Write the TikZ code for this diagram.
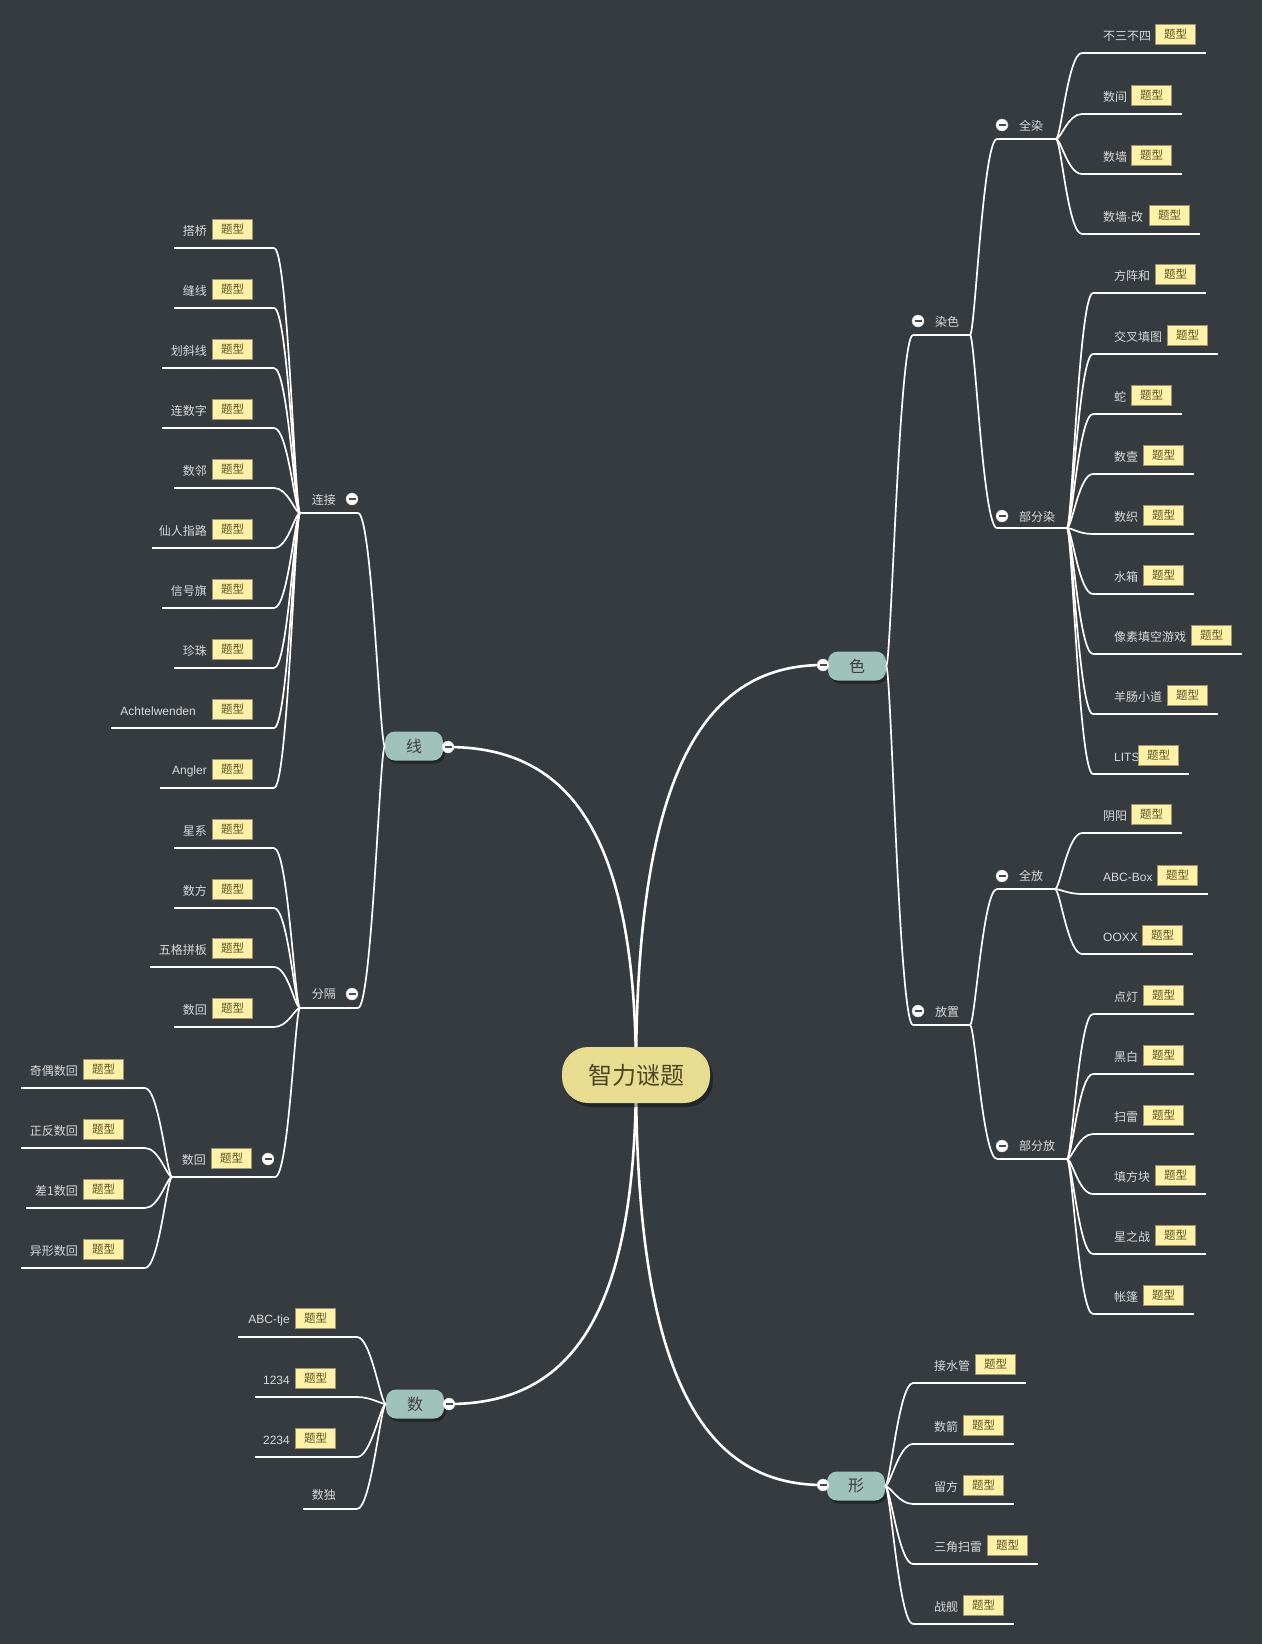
\documentclass[tikz,border=0pt]{standalone}
\usepackage{fontspec}
\newfontfamily\cjk{Noto Sans CJK SC}
\newfontfamily\lat{Liberation Sans}
\usetikzlibrary{shadows}

\definecolor{bgcol}{HTML}{363B3F}
\definecolor{leaftext}{HTML}{DADADA}
\definecolor{tagfill}{HTML}{FFF1A8}
\definecolor{tagline}{HTML}{9B9470}
\definecolor{tagtext}{HTML}{5E5426}
\definecolor{topicfill}{HTML}{9FC2BB}
\definecolor{topictext}{HTML}{3E4040}
\definecolor{rootfill}{HTML}{E7DC8F}
\definecolor{roottext}{HTML}{4D4526}
\definecolor{foldbar}{HTML}{4A4A4A}

\pgfdeclarelayer{back}
\pgfsetlayers{back,main}

\tikzset{
  trunk/.style={white, line width=2.6pt},
  branch/.style={white, line width=1.7pt},
  leaf/.style={text=leaftext, font=\cjk\fontsize{12}{14}\selectfont, inner sep=0pt},
  tag/.style={draw=tagline, fill=tagfill, text=tagtext, line width=0.8pt,
    font=\cjk\fontsize{11.5}{13}\selectfont, minimum width=40pt, minimum height=20pt, inner sep=0pt},
  topic/.style={fill=topicfill, text=topictext, rounded corners=10pt,
    font=\cjk\fontsize{16}{18}\selectfont, minimum width=58pt, minimum height=29pt,
    drop shadow={shadow xshift=2pt, shadow yshift=-3pt, fill=black, opacity=0.35}},
  root/.style={fill=rootfill, text=roottext, rounded corners=26pt,
    font=\cjk\fontsize{24}{28}\selectfont, minimum width=148pt, minimum height=56pt,
    drop shadow={shadow xshift=3pt, shadow yshift=-4pt, fill=black, opacity=0.35}},
  fold/.style={circle, fill=white, draw=gray!40, line width=0.4pt, minimum size=12pt, inner sep=0pt,
    path picture={\draw[foldbar, line width=1.8pt]
      ([xshift=-3.5pt]path picture bounding box.center) -- ([xshift=3.5pt]path picture bounding box.center);}}
}

% leaves on the right of a junction: name/y/left x/right x/text
\newcommand{\rightleaves}[2]{%
  \foreach \n/\yy/\lx/\rx/\txt in {#2}{%
    \draw[branch] (\lx,\yy) coordinate (\n-l) -- (\rx,\yy) coordinate (\n-r);
    \draw[branch] (#1) .. controls +(5,0) and +(-14,0) .. (\n-l);
    \node[leaf, anchor=west] (\n) at (\lx+21,\yy-17) {\txt};
    \node[tag, anchor=east] (\n-t) at (\rx-10,\yy-19) {题型};
  }}
% leaves on the left of a junction
\newcommand{\leftleaves}[2]{%
  \foreach \n/\yy/\lx/\rx/\txt in {#2}{%
    \draw[branch] (\lx,\yy) coordinate (\n-l) -- (\rx,\yy) coordinate (\n-r);
    \draw[branch] (#1) .. controls +(-5,0) and +(14,0) .. (\n-r);
    \node[tag, anchor=east] (\n-t) at (\rx-21,\yy-19) {题型};
    \node[leaf, anchor=east] (\n) at (\rx-67,\yy-17) {\txt};
  }}

\begin{document}
\begin{tikzpicture}[x=1pt,y=-1pt]
    \useasboundingbox (0,0) rectangle (1262,1644);
    \begin{pgfonlayer}{back}
      \fill[bgcol] (0,0) rectangle (1262,1644);
    \end{pgfonlayer}

    % root and main topics
    \node[root] (root) at (636,1075) {智力谜题};
    \node[topic] (se) at (857,666) {色};
    \node[topic] (xian) at (414,746) {线};
    \node[topic] (shu) at (415,1404) {数};
    \node[topic] (xing) at (856,1486) {形};
    \node[fold] (se-o) at (823,665) {};
    \node[fold] (xian-o) at (448,747) {};
    \node[fold] (shu-o) at (449,1404) {};
    \node[fold] (xing-o) at (823,1485) {};

    \begin{pgfonlayer}{back}
      \draw[trunk] (root.center) .. controls +(0,-295) and +(-123,0) .. (se-o.center);
      \draw[trunk] (root.center) .. controls +(0,-237) and +(124,0) .. (xian-o.center);
      \draw[trunk] (root.center) .. controls +(0,237) and +(124,0) .. (shu-o.center);
      \draw[trunk] (root.center) .. controls +(0,295) and +(-123,0) .. (xing-o.center);
    \end{pgfonlayer}

    % 色
    \draw[branch] (913,335) coordinate (ranse-l) -- (970,335) coordinate (ranse-r);
    \draw[branch] (se.east) .. controls +(5,0) and +(-14,0) .. (ranse-l);
    \node[fold] (ranse-o) at (918,321) {};
    \node[leaf, anchor=west] (ranse) at (935,321.5) {染色};

    \draw[branch] (997,139) coordinate (quanran-l) -- (1056,139) coordinate (quanran-r);
    \draw[branch] (ranse-r) .. controls +(5,0) and +(-14,0) .. (quanran-l);
    \node[fold] (quanran-o) at (1002,125) {};
    \node[leaf, anchor=west] (quanran) at (1019,125.5) {全染};
    \rightleaves{quanran-r}{q1/53/1082/1206/不三不四, q2/114/1082/1182/数间,
      q3/174/1082/1182/数墙, q4/234/1082/1200/数墙{\lat ·}改}

    \draw[branch] (997,528) coordinate (bufenran-l) -- (1067,528) coordinate (bufenran-r);
    \draw[branch] (ranse-r) .. controls +(5,0) and +(-14,0) .. (bufenran-l);
    \node[fold] (bufenran-o) at (1002,516) {};
    \node[leaf, anchor=west] (bufenran) at (1019,516.5) {部分染};
    \rightleaves{bufenran-r}{b1/293/1093/1206/方阵和, b2/354/1093/1218/交叉填图,
      b3/414/1093/1182/蛇, b4/474/1093/1194/数壹, b5/534/1093/1194/数织,
      b6/594/1093/1194/水箱, b7/654/1093/1242/像素填空游戏,
      b8/714/1093/1218/羊肠小道, b9/774/1093/1189/\lat LITS}

    \draw[branch] (913,1025) coordinate (fangzhi-l) -- (970,1025) coordinate (fangzhi-r);
    \draw[branch] (se.east) .. controls +(5,0) and +(-14,0) .. (fangzhi-l);
    \node[fold] (fangzhi-o) at (918,1011) {};
    \node[leaf, anchor=west] (fangzhi) at (935,1011.5) {放置};

    \draw[branch] (997,889) coordinate (quanfang-l) -- (1055,889) coordinate (quanfang-r);
    \draw[branch] (fangzhi-r) .. controls +(5,0) and +(-14,0) .. (quanfang-l);
    \node[fold] (quanfang-o) at (1002,876) {};
    \node[leaf, anchor=west] (quanfang) at (1019,876) {全放};
    \rightleaves{quanfang-r}{f1/833/1082/1182/阴阳, f2/894/1082/1208/\lat ABC-Box,
      f3/954/1082/1193/\lat OOXX}

    \draw[branch] (997,1159) coordinate (bufenfang-l) -- (1067,1159) coordinate (bufenfang-r);
    \draw[branch] (fangzhi-r) .. controls +(5,0) and +(-14,0) .. (bufenfang-l);
    \node[fold] (bufenfang-o) at (1002,1146) {};
    \node[leaf, anchor=west] (bufenfang) at (1019,1146) {部分放};
    \rightleaves{bufenfang-r}{p1/1014/1093/1194/点灯, p2/1074/1093/1194/黑白,
      p3/1134/1093/1194/扫雷, p4/1194/1093/1206/填方块, p5/1254/1093/1206/星之战,
      p6/1314/1093/1194/帐篷}

    % 形
    \rightleaves{xing.east}{x1/1383/913/1026/接水管, x2/1444/913/1014/数箭,
      x3/1504/913/1014/留方, x4/1564/913/1038/三角扫雷, x5/1624/913/1014/战舰}

    % 线
    \draw[branch] (300,513) coordinate (lianjie-l) -- (358,513) coordinate (lianjie-r);
    \draw[branch] (xian.west) .. controls +(-5,0) and +(14,0) .. (lianjie-r);
    \node[fold] (lianjie-o) at (352,499) {};
    \node[leaf, anchor=east] (lianjie) at (336,499.5) {连接};
    \leftleaves{lianjie-l}{l1/248/174/274/搭桥, l2/308/174/274/缝线,
      l3/368/162/274/划斜线, l4/428/162/274/连数字, l5/488/174/274/数邻,
      l6/548/152/274/仙人指路, l7/608/162/274/信号旗, l8/668/174/274/珍珠,
      l9/728/111/274/\lat Achtelwenden\kern11pt, l10/788/160/274/\lat Angler}

    \draw[branch] (300,1008) coordinate (fenge-l) -- (358,1008) coordinate (fenge-r);
    \draw[branch] (xian.west) .. controls +(-5,0) and +(14,0) .. (fenge-r);
    \node[fold] (fenge-o) at (352,994) {};
    \node[leaf, anchor=east] (fenge) at (336,994.5) {分隔};
    \leftleaves{fenge-l}{g1/848/174/274/星系, g2/908/174/274/数方,
      g3/967/150/274/五格拼板, g4/1027/174/274/数回}

    \draw[branch] (172,1177) coordinate (shuhui-l) -- (275,1177) coordinate (shuhui-r);
    \draw[branch] (fenge-l) .. controls +(-5,0) and +(14,0) .. (shuhui-r);
    \node[tag, anchor=east] (shuhui-t) at (252,1158) {题型};
    \node[leaf, anchor=east] (shuhui) at (206,1160) {数回};
    \node[fold] (shuhui-o) at (268,1159) {};
    \leftleaves{shuhui-l}{h1/1088/21/145/奇偶数回, h2/1148/21/145/正反数回,
      h3/1208/26/145/差1数回, h4/1268/21/145/异形数回}

    % 数
    \leftleaves{shu.west}{s1/1337/238/357/\lat ABC-tje, s2/1397/255/357/\lat 1234,
      s3/1457/255/357/\lat 2234}
    \draw[branch] (303,1509) coordinate (s4-l) -- (357,1509) coordinate (s4-r);
    \draw[branch] (shu.west) .. controls +(-5,0) and +(14,0) .. (s4-r);
    \node[leaf, anchor=east] (s4) at (336,1495) {数独};
\end{tikzpicture}
\end{document}
